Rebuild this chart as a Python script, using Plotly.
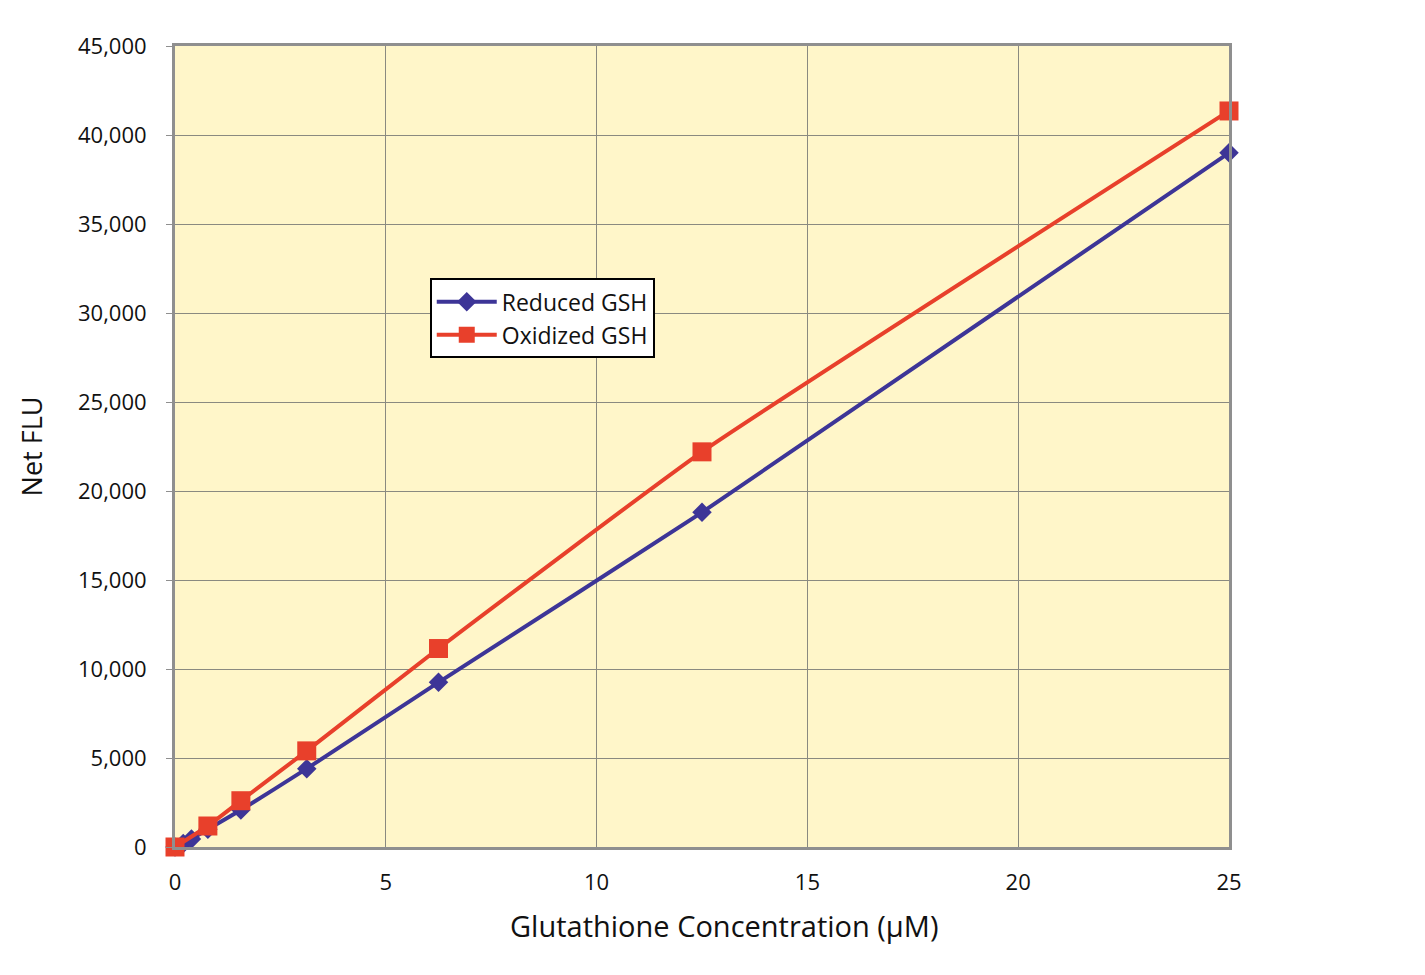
import plotly.graph_objects as go

conc_reduced = [0, 0.195, 0.39, 0.78, 1.5625, 3.125, 6.25, 12.5, 25]
flu_reduced = [0, 200, 450, 1000, 2080, 4400, 9250, 18800, 39000]
conc_oxidized = [0, 0.78, 1.5625, 3.125, 6.25, 12.5, 25]
flu_oxidized = [0, 1180, 2600, 5400, 11150, 22200, 41350]

x_ticks = [0, 5, 10, 15, 20, 25]
y_ticks = list(range(0, 45001, 5000))

font = "Open Sans, Noto Sans, sans-serif"

fig = go.Figure()
fig.add_trace(go.Scatter(
    x=conc_reduced, y=flu_reduced, name="Reduced GSH", mode="lines+markers",
    line=dict(color="#3d3597", width=4, shape="spline", smoothing=0.4),
    marker=dict(symbol="diamond", size=15, color="#3d3597"),
    cliponaxis=False,
))
fig.add_trace(go.Scatter(
    x=conc_oxidized, y=flu_oxidized, name="Oxidized GSH", mode="lines+markers",
    line=dict(color="#e8402b", width=4, shape="spline", smoothing=0.4),
    marker=dict(symbol="square", size=19, color="#e8402b"),
    cliponaxis=False,
))

fig.update_layout(
    width=1417, height=967,
    margin=dict(l=167, r=196, t=38, b=128),
    paper_bgcolor="white", plot_bgcolor="#fff6c9",
    font=dict(family=font, size=22, color="#111111"),
    showlegend=True,
    legend=dict(x=0.2417, y=0.71, xanchor="left", yanchor="top",
                bgcolor="white", bordercolor="black", borderwidth=2,
                font=dict(size=23), tracegroupgap=0, itemwidth=60),
    xaxis=dict(range=[0, 25], tickvals=x_ticks, showgrid=True, gridcolor="#8a8a80", gridwidth=1,
               showline=True, linecolor="#8f8f8f", linewidth=3, mirror=True,
               ticks="", zeroline=False, ticklabelstandoff=14,
               tickfont=dict(size=22)),
    yaxis=dict(range=[0, 45000], tickvals=y_ticks, tickformat=",", showgrid=True, gridcolor="#8a8a80", gridwidth=1,
               showline=True, linecolor="#8f8f8f", linewidth=3, mirror=True,
               ticks="outside", ticklen=6, tickcolor="#8f8f8f", zeroline=False,
               ticklabelstandoff=15,
               title=dict(text="Net FLU", font=dict(size=27), standoff=28),
               tickfont=dict(size=22)),
    annotations=[dict(text="Glutathione Concentration (µM)", xref="paper", yref="paper",
                      x=0.521, y=0, xanchor="center", yanchor="middle", yshift=-78,
                      showarrow=False, font=dict(size=29))],
)

fig.write_html("out.html")
